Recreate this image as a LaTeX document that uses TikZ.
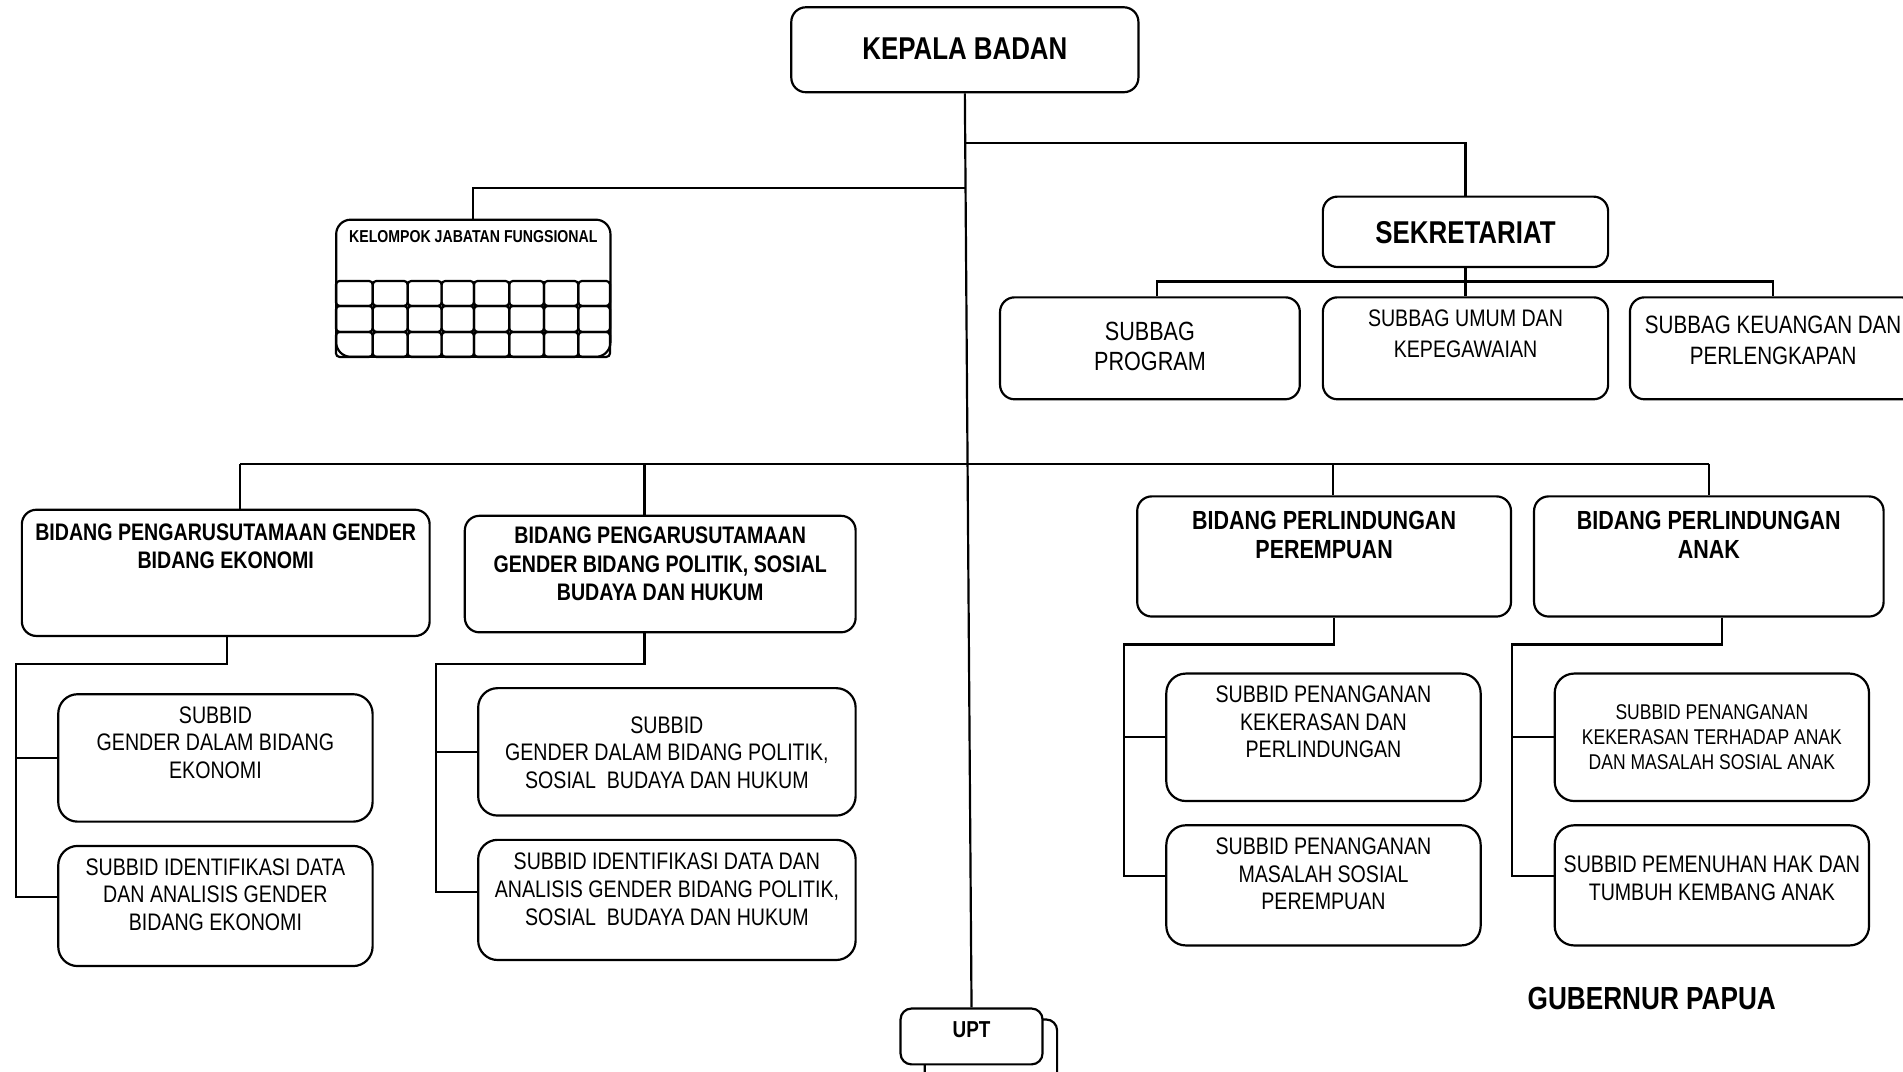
\documentclass[tikz,border=0pt]{standalone}
\usepackage{fontspec}
\setmainfont{Liberation Sans}[FakeStretch=0.82]
\begin{document}
\begin{tikzpicture}[x=1pt,y=-1pt,
  box/.style={draw, line width=1.8pt, rounded corners=12pt, fill=white, inner sep=0pt},
  sbox/.style={box, rounded corners=16pt},
  ln/.style={line width=1.8pt},
  cell/.style={draw, line width=1.8pt, rounded corners=3pt},
  txt/.style={align=center, inner sep=0pt, font=\fontsize{19.7}{22.7}\selectfont},
  bigt/.style={align=center, inner sep=0pt, font=\fontsize{26}{30}\selectfont\bfseries},
  bidt/.style={align=center, inner sep=0pt, font=\fontsize{19.7}{22.5}\selectfont\bfseries},
  bidr/.style={align=center, inner sep=0pt, font=\fontsize{21.6}{24}\selectfont\bfseries}]
\useasboundingbox (0,0) rectangle (1568,883);
\fill[white] (0,0) rectangle (1568,883);

% boxes
\node[box, minimum width=286pt, minimum height=70pt] (kepala) at (795,41) {};
\node[box, minimum width=235pt, minimum height=58pt] (sek) at (1207.5,191) {};
\node[box, minimum width=247pt, minimum height=84pt] (sprog) at (947.5,287) {};
\node[box, minimum width=235pt, minimum height=84pt] (sumum) at (1207.5,287) {};
\node[box, minimum width=236pt, minimum height=84pt] (skeu) at (1461,287) {};
\node[box, minimum width=226pt, minimum height=113pt] (kjf) at (390,237.5) {};
\node[box, minimum width=336pt, minimum height=104pt] (bE) at (186,472) {};
\node[box, minimum width=322pt, minimum height=96pt] (bP) at (544,473) {};
\node[box, minimum width=308pt, minimum height=99pt] (bW) at (1091,458.5) {};
\node[box, minimum width=288pt, minimum height=99pt] (bA) at (1408,458.5) {};
\node[sbox, minimum width=259pt, minimum height=105pt] (e1) at (177.5,624.5) {};
\node[sbox, minimum width=259pt, minimum height=99pt] (e2) at (177.5,746.5) {};
\node[sbox, minimum width=311pt, minimum height=105pt] (p1) at (549.5,619.5) {};
\node[sbox, minimum width=311pt, minimum height=99pt] (p2) at (549.5,741.5) {};
\node[sbox, minimum width=259pt, minimum height=105pt] (w1) at (1090.5,607.5) {};
\node[sbox, minimum width=259pt, minimum height=99pt] (w2) at (1090.5,729.5) {};
\node[sbox, minimum width=259pt, minimum height=105pt] (a1) at (1410.5,607.5) {};
\node[sbox, minimum width=259pt, minimum height=99pt] (a2) at (1410.5,729.5) {};
\node[box, rounded corners=9pt, minimum width=109pt, minimum height=55pt] (uptb) at (816.5,867.5) {};
\node[box, rounded corners=9pt, minimum width=117pt, minimum height=46pt] (upt) at (800.5,854) {};

% grid of KJF
\foreach \xa/\xb in {276.8/307.1,307.1/335.9,335.9/363.9,363.9/390.5,390.5/419.6,419.6/448.2,448.2/476.5,476.5/502.6}
  \foreach \ya/\yb in {231.5/252.1,252.1/273.5,273.5/294.1}
    \draw[cell] (\xa,\ya) rectangle (\xb,\yb);

% texts
\node[bigt] (kepalat) at (795,40) {KEPALA BADAN};
\node[bigt] (sekt) at (1207.5,192) {SEKRETARIAT};
\node[txt, font=\fontsize{21.7}{25}\selectfont] (sprogt) at (947.5,285.5) {SUBBAG\\PROGRAM};
\node[txt, font=\fontsize{19.7}{26}\selectfont] (sumumt) at (1207.5,275) {SUBBAG UMUM DAN\\KEPEGAWAIAN};
\node[txt, font=\fontsize{20.7}{25}\selectfont] (skeut) at (1461,280.5) {SUBBAG KEUANGAN DAN\\PERLENGKAPAN};
\node[bidt, font=\fontsize{14.2}{16}\selectfont\bfseries] (kjft) at (390,195) {KELOMPOK JABATAN FUNGSIONAL};
\node[bidt] (bEt) at (186,450) {BIDANG PENGARUSUTAMAAN GENDER\\BIDANG EKONOMI};
\node[bidt, font=\fontsize{19.7}{23.5}\selectfont\bfseries] (bPt) at (544,464.7) {BIDANG PENGARUSUTAMAAN\\GENDER BIDANG POLITIK, SOSIAL\\BUDAYA DAN HUKUM};
\node[bidr] (bWt) at (1091,441) {BIDANG PERLINDUNGAN\\PEREMPUAN};
\node[bidr] (bAt) at (1408,441) {BIDANG PERLINDUNGAN\\ANAK};
\node[txt] (e1t) at (177.5,612) {SUBBID\\GENDER DALAM BIDANG\\EKONOMI};
\node[txt] (e2t) at (177.5,737) {SUBBID IDENTIFIKASI DATA\\DAN ANALISIS GENDER\\BIDANG EKONOMI};
\node[txt] (p1t) at (549.5,620) {SUBBID\\GENDER DALAM BIDANG POLITIK,\\SOSIAL~~BUDAYA DAN HUKUM};
\node[txt] (p2t) at (549.5,732.7) {SUBBID IDENTIFIKASI DATA DAN\\ANALISIS GENDER BIDANG POLITIK,\\SOSIAL~~BUDAYA DAN HUKUM};
\node[txt] (w1t) at (1090.5,595) {SUBBID PENANGANAN\\KEKERASAN DAN\\PERLINDUNGAN};
\node[txt] (w2t) at (1090.5,720) {SUBBID PENANGANAN\\MASALAH SOSIAL\\PEREMPUAN};
\node[txt, font=\fontsize{17.6}{20.5}\selectfont] (a1t) at (1410.5,607.3) {SUBBID PENANGANAN\\KEKERASAN TERHADAP ANAK\\DAN MASALAH SOSIAL ANAK};
\node[txt] (a2t) at (1410.5,723.5) {SUBBID PEMENUHAN HAK DAN\\TUMBUH KEMBANG ANAK};
\node[bidt, font=\fontsize{19}{22}\selectfont\bfseries] (uptt) at (800.5,848) {UPT};
\node[bidt, font=\fontsize{26.3}{29}\selectfont\bfseries] (gub) at (1361,823) {GUBERNUR PAPUA};

% junctions
\coordinate (j1) at (795.3,118);
\coordinate (j2) at (795.5,155);
\coordinate (sbar) at (1207.5,232);
\coordinate (bl) at (198,382);
\coordinate (jp) at (531,382);
\coordinate (jw) at (1098,382);
\coordinate (br) at (1408,382);
\coordinate (eT) at (187,547);
\coordinate (eL) at (13,547);
\coordinate (eb2) at (13,739);
\coordinate (pT) at (531,547);
\coordinate (pL) at (359,547);
\coordinate (pb2) at (359,735);
\coordinate (wT) at (1099,531);
\coordinate (wL) at (926,531);
\coordinate (wb2) at (926,722);
\coordinate (aT) at (1419,531);
\coordinate (aL) at (1246,531);
\coordinate (ab2) at (1246,722);

% connectors
\draw[ln] (kepala.south) -- (upt.north);
\draw[ln] (j1) -| (sek.north);
\draw[ln] (j2) -| (kjf.north);
\draw[ln] (sek.south) -- (sumum.north);
\draw[ln] ([xshift=5.5pt]sprog.north) |- (skeu.north |- sbar) -- (skeu.north);
\draw[ln] (bl) -- (br);
\draw[ln] (bl) -- (bl |- bE.north);
\draw[ln] (jp) -- (jp |- bP.north);
\draw[ln] (jw) -- (jw |- bW.north);
\draw[ln] (br) -- (bA.north);
\draw[ln] (eT |- bE.south) -- (eT) -- (eL) -- (eb2) -- (eb2 -| e2.west);
\draw[ln] (eL |- e1.west) -- (e1.west);
\draw[ln] (pT |- bP.south) -- (pT) -- (pL) -- (pb2) -- (pb2 -| p2.west);
\draw[ln] (pL |- p1.west) -- (p1.west);
\draw[ln] (wT |- bW.south) -- (wT) -- (wL) -- (wb2) -- (wb2 -| w2.west);
\draw[ln] (wL |- w1.west) -- (w1.west);
\draw[ln] (aT |- bA.south) -- (aT) -- (aL) -- (ab2) -- (ab2 -| a2.west);
\draw[ln] (aL |- a1.west) -- (a1.west);
\end{tikzpicture}
\end{document}
